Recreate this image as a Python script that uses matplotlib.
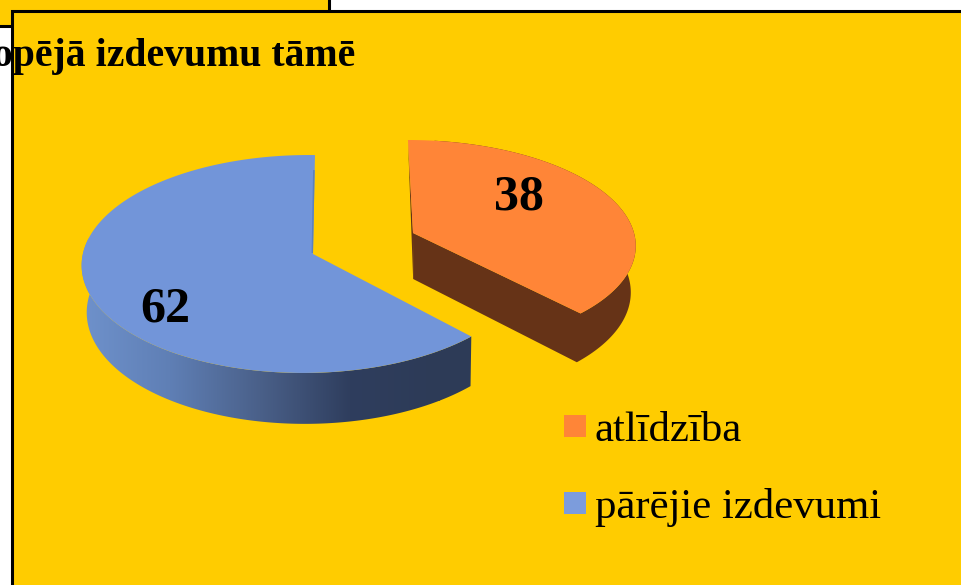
import numpy as np
import matplotlib
matplotlib.use("Agg")
import matplotlib.pyplot as plt
from matplotlib.patches import Polygon, Rectangle, Patch
from matplotlib.colors import LinearSegmentedColormap

# ---- data ----
categories = ["atlīdzība", "pārējie izdevumi"]
values = [38, 62]
title = "Kopējā izdevumu tāmē"

# ---- style ----
YELLOW = "#FFCC00"
ORANGE = "#FF8537"
ORANGE_SIDE = "#663317"
BLUE = "#7295D9"
BLUE_LEG = "#7C9CDC"
BLUE_SLIVER = "#5B80BD"
BLUE_GRAD = ["#6F92CC", "#5F7FB5", "#4A6089", "#2F3E5E", "#2D3B57"]
SERIF = "Liberation Serif"

fig = plt.figure(figsize=(9.61, 5.85), dpi=100, facecolor="white")
ax = fig.add_axes([0, 0, 1, 1])
ax.set_xlim(0, 961)
ax.set_ylim(585, 0)
ax.axis("off")

# background panels
ax.add_patch(Rectangle((-10, -10), 339, 35.5, fc=YELLOW, ec="black", lw=2.2, zorder=1))
ax.add_patch(Rectangle((11.7, 10.8), 1000, 700, fc=YELLOW, ec="black", lw=2.2, zorder=2))

# perspective projection of a tilted disc (per slice)
GEOM = {
    "atlīdzība": dict(ax=413, ay=233, sx=221, sy=102.3, k=0.10, m=0.0, s=-0.054, shrink=0.977),
    "pārējie izdevumi": dict(ax=313, ay=254, sx=223, sy=108, k=0.0917, m=0.031, s=0.02, shrink=0.985),
}

def project(theta, g):
    d = 1 + g["k"] * np.sin(theta) + g["m"] * np.cos(theta)
    X = g["sx"] * np.cos(theta) / d
    Y = g["sy"] * np.sin(theta) / d
    return g["ax"] + X + g["s"] * Y, g["ay"] - Y

def extrude(x, y, g):
    x = np.asarray(x, float)
    y = np.asarray(y, float)
    return 420 + (x - 420) * g["shrink"], y + 46 + (y - 233) * 0.035

total = sum(values)
bounds = np.pi / 2 - 2 * np.pi * np.cumsum([0] + values) / total

# orange slice: one outline for the outer wall and the cut wall, plus the sliver at the back
name = categories[0]
g = GEOM[name]
th = np.linspace(bounds[0], bounds[1], 200)
x, y = project(th, g)
wall = th <= bounds[0] - 0.12
xw, yw = x[wall], y[wall]
xe, ye = extrude(xw, yw, g)
ax_, ay_ = g["ax"], g["ay"]
axe, aye = extrude(ax_, ay_, g)
ax.add_patch(Polygon(np.c_[np.r_[ax_, axe, xe[::-1], xw], np.r_[ay_, aye, ye[::-1], yw]],
                     fc=ORANGE_SIDE, ec="none", zorder=3))
ax.add_patch(Polygon([[x[0], y[0]], [ax_, ay_], [axe, aye]], fc=ORANGE_SIDE, ec="none", zorder=3))
ax.add_patch(Polygon(np.c_[np.r_[ax_, x], np.r_[ay_, y]], fc=ORANGE, ec="none", zorder=4))

# blue slice
name = categories[1]
g = GEOM[name]
th = np.linspace(bounds[1], bounds[2], 400)
x, y = project(th, g)
front = th >= -np.pi - 0.15
xe, ye = extrude(x[front], y[front], g)
ax_, ay_ = g["ax"], g["ay"]
side = Polygon(np.c_[np.r_[x[front], xe[::-1]], np.r_[y[front], ye[::-1]]], fc="none", ec="none", zorder=3)
ax.add_patch(side)
cmap = LinearSegmentedColormap.from_list("side", BLUE_GRAD)
im = ax.imshow(np.linspace(0, 1, 256)[None, :], extent=(80, 440, 440, 140), cmap=cmap,
               aspect="auto", zorder=3, interpolation="bilinear")
im.set_clip_path(side)
ax.set_xlim(0, 961)
ax.set_ylim(585, 0)
flat = Rectangle((439, 300), 40, 120, fc=BLUE_GRAD[-1], ec="none", zorder=3)
ax.add_patch(flat)
flat.set_clip_path(side)
ax.add_patch(Polygon(np.c_[np.r_[ax_, x], np.r_[ay_, y]], fc=BLUE, ec="none", zorder=4))
# thin cut wall at the top, seen just inside the face edge
ax.add_patch(Polygon([[x[-1] - 0.3, y[-1] + 15], [x[-1] - 0.3 - 1.6, y[-1] + 15],
                      [ax_ - 1.4, ay_ - 1], [ax_, ay_ - 1]],
                     fc=BLUE_SLIVER, ec="none", zorder=5))

# value labels
ax.text(519, 197, str(values[0]), family=SERIF, weight="bold", fontsize=36,
        ha="center", va="center", color="black", zorder=6)
ax.text(165, 309, str(values[1]), family=SERIF, weight="bold", fontsize=36,
        ha="center", va="center", color="black", zorder=6)

# title
ax.text(355, 66, title, family=SERIF, weight="bold", fontsize=28.6, ha="right",
        va="baseline", color="black", zorder=7)

# legend
handles = [Patch(fc=ORANGE, ec="none"), Patch(fc=BLUE_LEG, ec="none")]
leg = ax.legend(handles, categories, loc="upper left", bbox_to_anchor=(564 / 961, 1 - 411.5 / 585),
                frameon=False, borderaxespad=0, borderpad=0, handlelength=0.515, handleheight=0.415,
                handletextpad=0.2, labelspacing=0.895,
                prop={"family": SERIF, "size": 30.75})
leg.set_zorder(7)

fig.savefig("out.png", dpi=100)
